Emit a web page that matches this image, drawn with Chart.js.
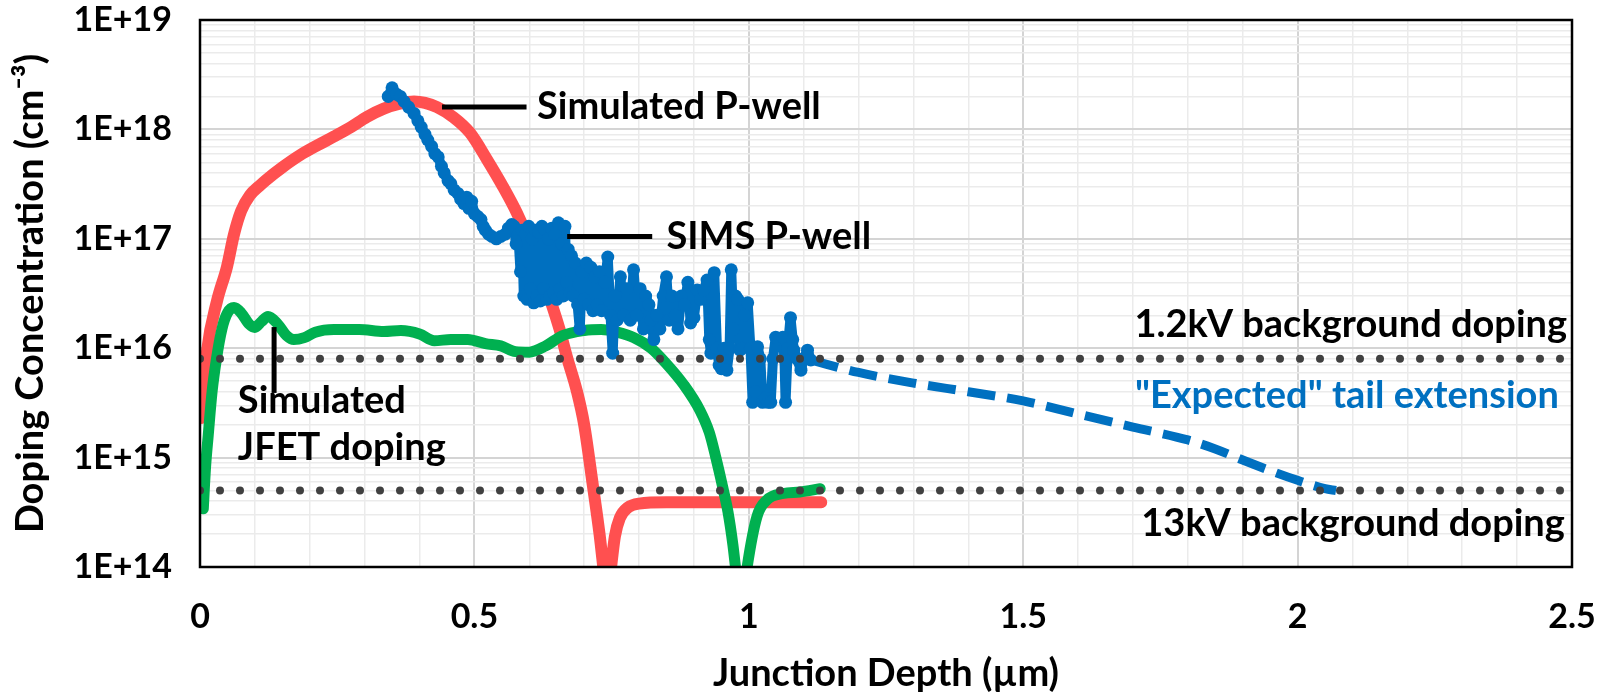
<!DOCTYPE html>
<html>
<head>
<meta charset="utf-8">
<script src="https://cdn.jsdelivr.net/npm/chart.js@4.4.1/dist/chart.umd.min.js"></script>
<style>
  html, body { margin: 0; padding: 0; background: #ffffff; }
  #wrap { width: 1603px; height: 697px; }
</style>
</head>
<body>
<div id="wrap"><canvas id="chart" width="1603" height="697"></canvas></div>
<script>
// ---- Simulated P-well profile (depth in µm, concentration in cm^-3)
const pwellDepth = [0.002, 0.013, 0.031, 0.049, 0.062, 0.075, 0.091, 0.110, 0.122, 0.150, 0.182, 0.215, 0.244, 0.275, 0.304, 0.335, 0.364, 0.390, 0.410, 0.432, 0.461, 0.492, 0.523, 0.552, 0.578, 0.600, 0.620, 0.640, 0.655, 0.668, 0.687, 0.700, 0.716, 0.728, 0.737, 0.742, 0.750, 0.756, 0.765, 0.780, 0.800, 0.850, 0.950, 1.050, 1.132];
const pwellConc  = [2.3e15, 9.6e15, 2.7e16, 5.5e16, 1.1e17, 1.8e17, 2.5e17, 3.1e17, 3.5e17, 4.5e17, 5.8e17, 7.2e17, 8.6e17, 1.05e18, 1.3e18, 1.55e18, 1.72e18, 1.8e18, 1.75e18, 1.6e18, 1.3e18, 9.3e17, 5.3e17, 3.0e17, 1.7e17, 9.5e16, 5.0e16, 2.6e16, 1.5e16, 8.5e15, 4.0e15, 2.0e15, 5.5e14, 2.0e14, 8e13, 5e13, 1.1e14, 1.9e14, 2.8e14, 3.5e14, 3.8e14, 3.9e14, 3.9e14, 3.9e14, 3.9e14];

// ---- Simulated JFET doping profile
const jfetDepth = [0.006, 0.010, 0.015, 0.022, 0.030, 0.040, 0.050, 0.062, 0.075, 0.090, 0.100, 0.112, 0.124, 0.140, 0.158, 0.171, 0.190, 0.210, 0.244, 0.290, 0.335, 0.366, 0.400, 0.427, 0.457, 0.488, 0.520, 0.548, 0.575, 0.600, 0.630, 0.660, 0.700, 0.731, 0.760, 0.790, 0.822, 0.850, 0.882, 0.911, 0.928, 0.940, 0.952, 0.962, 0.971, 0.978, 0.987, 0.997, 1.015, 1.033, 1.063, 1.093, 1.130];
const jfetConc  = [3.4e14, 8e14, 1.6e15, 4e15, 8e15, 1.5e16, 2.1e16, 2.35e16, 2.1e16, 1.65e16, 1.55e16, 1.75e16, 1.95e16, 1.7e16, 1.3e16, 1.2e16, 1.25e16, 1.4e16, 1.48e16, 1.48e16, 1.42e16, 1.45e16, 1.35e16, 1.17e16, 1.2e16, 1.2e16, 1.1e16, 1.05e16, 9.3e15, 9.2e15, 1.05e16, 1.3e16, 1.45e16, 1.48e16, 1.4e16, 1.25e16, 1.0e16, 7.2e15, 4.6e15, 2.7e15, 1.7e15, 1.0e15, 5.5e14, 3.2e14, 1.6e14, 8e13, 4e13, 1.0e14, 2.9e14, 4.1e14, 4.7e14, 4.85e14, 5.2e14];

// ---- Measured SIMS P-well profile
const simsDepth = [
  0.343, 0.350, 0.358, 0.365, 0.372, 0.380, 0.390, 0.397, 0.403, 0.410, 0.415, 0.422, 0.428, 0.434, 0.440, 0.445, 0.452, 0.457, 0.463, 0.470,
  0.475, 0.481, 0.486, 0.490, 0.495, 0.500, 0.506, 0.512, 0.516, 0.520, 0.526, 0.532, 0.540, 0.548, 0.556, 0.562, 0.568, 0.572, 0.576, 0.580,
  0.584, 0.587, 0.590, 0.593, 0.596, 0.599, 0.602, 0.605, 0.608, 0.611, 0.614, 0.617, 0.620, 0.623, 0.626, 0.629, 0.632, 0.635, 0.638, 0.641,
  0.644, 0.647, 0.650, 0.653, 0.656, 0.659, 0.662, 0.665, 0.668, 0.671, 0.674, 0.677,
  0.680, 0.684, 0.688, 0.692, 0.696, 0.700, 0.704, 0.708, 0.712, 0.716, 0.720, 0.724, 0.728, 0.732, 0.738, 0.743, 0.748, 0.752, 0.756,
  0.760, 0.766, 0.772, 0.778, 0.784, 0.790, 0.796, 0.802, 0.808, 0.812, 0.818, 0.822, 0.827, 0.832, 0.838, 0.844, 0.850, 0.855, 0.860, 0.866,
  0.871, 0.877, 0.883, 0.889, 0.894, 0.900, 0.906, 0.912, 0.918, 0.924, 0.928, 0.931, 0.937, 0.942, 0.946, 0.950, 0.955, 0.960, 0.965, 0.968,
  0.972, 0.976, 0.980, 0.984, 0.988, 0.992, 0.998, 1.003, 1.007, 1.012, 1.016, 1.021, 1.025, 1.030, 1.035, 1.040, 1.044, 1.049, 1.055, 1.062,
  1.065, 1.067, 1.071, 1.076, 1.080, 1.082, 1.088, 1.095, 1.100, 1.107, 1.113
];
const simsConc = [
  2.0e18, 2.4e18, 2.1e18, 2.0e18, 1.8e18, 1.6e18, 1.4e18, 1.2e18, 1.05e18, 9.0e17, 8.0e17, 7.0e17, 6.0e17, 5.6e17, 4.6e17, 4.0e17, 3.4e17, 3.2e17, 2.8e17, 2.6e17,
  2.3e17, 2.1e17, 2.4e17, 1.9e17, 2.2e17, 1.7e17, 1.6e17, 1.5e17, 1.3e17, 1.2e17, 1.1e17, 1.05e17, 1.0e17, 1.05e17, 1.1e17, 1.25e17, 1.35e17, 1.3e17, 9e16, 1.1e17,
  5e16, 1.2e17, 3e16, 1.1e17, 2.8e16, 1.3e17, 3.5e16, 1.0e17, 2.6e16, 1.2e17, 3.0e16, 1.15e17, 2.7e16, 1.3e17, 3.5e16, 1.2e17, 2.8e16, 1.0e17, 3.0e16, 1.25e17,
  3.2e16, 1.1e17, 2.8e16, 1.4e17, 3.5e16, 9e16, 3.0e16, 1.3e17, 4e16, 8e16, 3.2e16, 7e16,
  3e16, 6e16, 2.5e16, 1.5e16, 5e16, 2.8e16, 6.0e16, 2.5e16, 5.5e16, 2.2e16, 4.5e16, 2.5e16, 5e16, 2.2e16, 4.0e16, 6.8e16, 2.0e16, 9e15, 3.0e16,
  1.8e16, 4.5e16, 2.0e16, 3.5e16, 1.8e16, 5.2e16, 2.0e16, 3.5e16, 1.5e16, 3.0e16, 2.5e16, 1.8e16, 1.2e16, 2.0e16, 1.5e16, 3.0e16, 4.5e16, 1.8e16, 3.0e16, 2.0e16,
  1.5e16, 3.0e16, 2.5e16, 4.0e16, 1.7e16, 1.9e16, 3.4e16, 2.8e16, 3.4e16, 4.2e16, 1.2e16, 9e15, 4.9e16, 1.0e16, 7e15, 6.5e15, 1.0e16, 6.3e15, 1.0e16, 5.2e16,
  1.5e16, 3.0e16, 2.8e16, 9.6e15, 1.0e16, 2.0e16, 2.6e16, 1.0e16, 3.2e15, 4e15, 1.03e16, 8e15, 3.2e15, 3.5e15, 3.2e15, 3.2e15, 8e15, 1.26e16, 1.2e16, 1.26e16,
  8e15, 3.2e15, 1.0e16, 1.9e16, 1.2e16, 9.6e15, 8e15, 6.3e15, 8e15, 9.6e15, 7.8e15
];

// ---- "Expected" tail extension of the SIMS profile
const tailDepth = [1.113, 1.200, 1.300, 1.400, 1.500, 1.600, 1.700, 1.800, 1.850, 1.900, 1.950, 2.000, 2.050, 2.070];
const tailConc  = [7.8e15, 6.0e15, 4.8e15, 4.0e15, 3.3e15, 2.5e15, 1.9e15, 1.45e15, 1.2e15, 9.5e14, 7.6e14, 6.2e14, 5.2e14, 5.0e14];

// ---- Background doping reference levels
const bgDepth = [0, 2.5];
const bg12kV = 8e15;
const bg13kV = 5e14;

// ---- Axis ticks
const xTickValues = [0, 0.1, 0.2, 0.3, 0.4, 0.5, 0.6, 0.7, 0.8, 0.9, 1.0, 1.1, 1.2, 1.3, 1.4, 1.5, 1.6, 1.7, 1.8, 1.9, 2.0, 2.1, 2.2, 2.3, 2.4, 2.5];
const xLabelStep = 0.5;
const yDecades = [14, 15, 16, 17, 18, 19];
const yMultipliers = [1, 2, 3, 4, 5, 6, 7, 8, 9];

const FONT = 'Lato, "Open Sans", sans-serif';
const BLUE = '#0070C0', RED = '#FF5050', GREEN = '#00B050', DOTS = '#404040';

const pairs = (xs, ys) => xs.map((x, i) => ({ x, y: ys[i] }));
const isDecade = v => { const e = Math.log10(v); return Math.abs(e - Math.round(e)) < 1e-9; };
const isHalf = v => Math.abs(v / xLabelStep - Math.round(v / xLabelStep)) < 1e-6;

// callouts and their leader lines, placed in data coordinates
const callouts = [
  { text: 'Simulated P-well', x: 0.614, y: 1.6e18, align: 'left', color: '#000' },
  { text: 'SIMS P-well', x: 0.850, y: 1.05e17, align: 'left', color: '#000' },
  { text: 'Simulated', x: 0.069, y: 3.3e15, align: 'left', color: '#000' },
  { text: 'JFET doping', x: 0.069, y: 1.22e15, align: 'left', color: '#000' },
  { text: '1.2kV background doping', x: 2.491, y: 1.63e16, align: 'right', color: '#000' },
  { text: '"Expected" tail extension', x: 2.476, y: 3.66e15, align: 'right', color: BLUE },
  { text: '13kV background doping', x: 2.487, y: 2.47e14, align: 'right', color: '#000' }
];
const leaders = [
  { x1: 0.441, y1: 1.6e18, x2: 0.595, y2: 1.6e18 },
  { x1: 0.669, y1: 1.05e17, x2: 0.824, y2: 1.05e17 },
  { x1: 0.135, y1: 1.56e16, x2: 0.135, y2: 3.9e15 }
];

const frameAndNotes = {
  id: 'frameAndNotes',
  afterDatasetsDraw(chart) {
    const { ctx, chartArea: a, scales: { x, y } } = chart;
    ctx.save();
    ctx.strokeStyle = '#000';
    ctx.lineWidth = 5;
    ctx.lineCap = 'butt';
    leaders.forEach(l => {
      ctx.beginPath();
      ctx.moveTo(x.getPixelForValue(l.x1), y.getPixelForValue(l.y1));
      ctx.lineTo(x.getPixelForValue(l.x2), y.getPixelForValue(l.y2));
      ctx.stroke();
    });
    ctx.font = 'bold 38px ' + FONT;
    ctx.textBaseline = 'middle';
    callouts.forEach(c => {
      ctx.fillStyle = c.color;
      ctx.textAlign = c.align;
      ctx.fillText(c.text, x.getPixelForValue(c.x), y.getPixelForValue(c.y));
    });
    ctx.lineWidth = 2.5;
    ctx.strokeStyle = '#000';
    ctx.strokeRect(a.left, a.top, a.right - a.left, a.bottom - a.top);
    ctx.restore();
  }
};

new Chart(document.getElementById('chart'), {
  type: 'line',
  data: {
    datasets: [
      { data: pairs(bgDepth, [bg12kV, bg12kV]), borderColor: DOTS, borderWidth: 8, borderDash: [0, 20], borderCapStyle: 'round', pointRadius: 0, order: 0, clip: 0 },
      { data: pairs(bgDepth, [bg13kV, bg13kV]), borderColor: DOTS, borderWidth: 8, borderDash: [0, 20], borderCapStyle: 'round', pointRadius: 0, order: 0, clip: 0 },
      { data: pairs(tailDepth, tailConc), borderColor: BLUE, borderWidth: 9, borderDash: [28, 12], pointRadius: 0, order: 1, cubicInterpolationMode: 'monotone' },
      { data: pairs(simsDepth, simsConc), borderColor: BLUE, backgroundColor: BLUE, borderWidth: 10, borderJoinStyle: 'round', borderCapStyle: 'round', pointRadius: 6.5, pointBorderWidth: 0, pointBackgroundColor: BLUE, order: 2 },
      { data: pairs(jfetDepth, jfetConc), borderColor: GREEN, borderWidth: 11, borderCapStyle: 'round', borderJoinStyle: 'round', pointRadius: 0, cubicInterpolationMode: 'monotone', order: 3, clip: 0 },
      { data: pairs(pwellDepth, pwellConc), borderColor: RED, borderWidth: 12, borderCapStyle: 'round', borderJoinStyle: 'round', pointRadius: 0, cubicInterpolationMode: 'monotone', order: 4, clip: 0 }
    ]
  },
  options: {
    responsive: false,
    animation: false,
    events: [],
    layout: { padding: { top: 20, right: 31, left: 0, bottom: 0 } },
    plugins: { legend: { display: false }, tooltip: { enabled: false } },
    scales: {
      x: {
        type: 'linear', min: 0, max: 2.5,
        afterFit(s) { s.height = 130; s.paddingLeft = 0; s.paddingRight = 0; },
        afterBuildTicks(s) { s.ticks = xTickValues.map(v => ({ value: v })); },
        border: { display: false },
        grid: {
          drawTicks: false,
          color: c => isHalf(c.tick.value) ? '#d4d4d4' : '#ebebeb',
          lineWidth: c => isHalf(c.tick.value) ? 2 : 1.5
        },
        ticks: {
          autoSkip: false, maxRotation: 0, padding: 30, color: '#000',
          font: { family: FONT, size: 34, weight: 'bold' },
          callback: v => isHalf(v) ? String(Math.round(v * 10) / 10) : ''
        },
        title: {
          display: true, text: 'Junction Depth (µm)', color: '#000',
          font: { family: FONT, size: 38, weight: 'bold' }, padding: { top: 0, bottom: 0 }
        }
      },
      y: {
        type: 'logarithmic', min: 1e14, max: 1e19,
        afterFit(s) { s.width = 200; s.paddingTop = 0; s.paddingBottom = 0; },
        afterBuildTicks(s) {
          const t = [];
          yDecades.forEach(e => yMultipliers.forEach(m => {
            const v = m * Math.pow(10, e);
            if (v <= Math.pow(10, yDecades[yDecades.length - 1])) t.push({ value: v });
          }));
          s.ticks = t;
        },
        border: { display: false },
        grid: {
          drawTicks: false,
          color: c => isDecade(c.tick.value) ? '#d4d4d4' : '#ebebeb',
          lineWidth: c => isDecade(c.tick.value) ? 2 : 1.5
        },
        ticks: {
          autoSkip: false, padding: 28, color: '#000',
          font: { family: FONT, size: 34, weight: 'bold' },
          callback: v => isDecade(v) ? '1E+' + Math.round(Math.log10(v)) : ''
        },
        title: {
          display: true, text: 'Doping Concentration (cm⁻³)', color: '#000',
          font: { family: FONT, size: 38, weight: 'bold' }, padding: { top: 8, bottom: 0 }
        }
      }
    }
  },
  plugins: [frameAndNotes]
});
</script>
</body>
</html>
